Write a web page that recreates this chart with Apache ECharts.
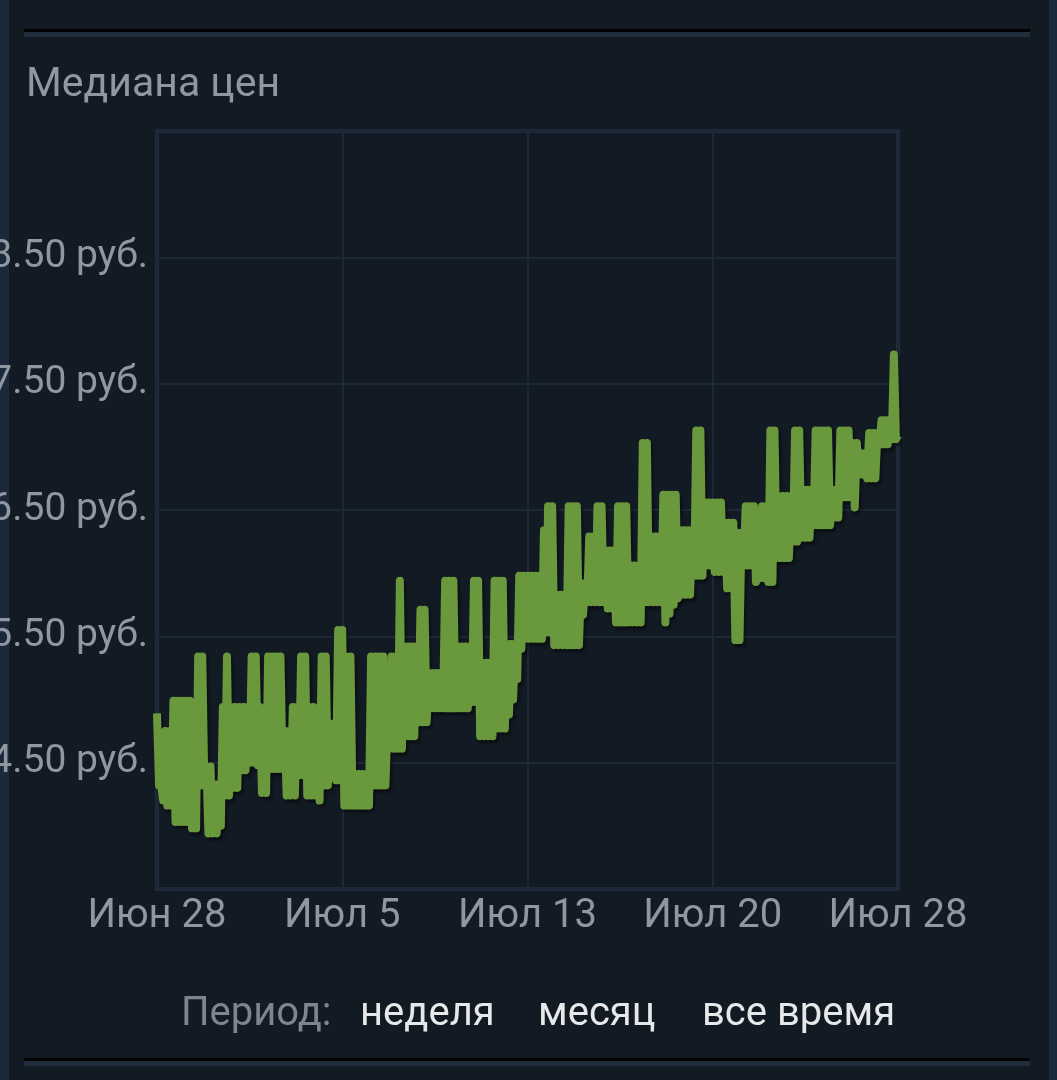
<!DOCTYPE html>
<html>
<head>
<meta charset="utf-8">
<script src="https://cdn.jsdelivr.net/npm/echarts@6/dist/echarts.min.js"></script>
<style>
html,body{margin:0;padding:0;background:#121a23;overflow:hidden;}
#stripL{position:absolute;left:0;top:0;width:9px;height:1080px;background:#1b2a3b;}
#stripR{position:absolute;left:1049px;top:0;width:8px;height:1080px;background:#1b2a3b;}
#chart{position:absolute;left:0;top:0;width:1057px;height:1080px;}
</style>
</head>
<body>
<div id="stripL"></div>
<div id="stripR"></div>
<div id="chart"></div>
<script>
// ---- data ----
const titleText = 'Медиана цен';
const xTickLabels = ['Июн 28', 'Июл 5', 'Июл 13', 'Июл 20', 'Июл 28'];
const yTickValues = [4.5, 5.5, 6.5, 7.5, 8.5];
const yTickLabels = ['4.50 руб.', '5.50 руб.', '6.50 руб.', '7.50 руб.', '8.50 руб.'];
const periodLabel = 'Период:';
const periodOptions = ['неделя', 'месяц', 'все время'];
// median price samples, one every 2 hours from Jun 28 00:00 (hour 0) to Jul 28 00:00 (hour 720)
const sampleStepHours = 2;
const prices = [
  4.89, 4.32, 4.33, 4.20, 4.75, 4.16, 4.75, 4.16, 4.99, 4.03,
  4.99, 4.03, 4.99, 4.03, 4.99, 4.03, 4.99, 3.98, 4.60, 3.98,
  5.34, 4.32, 5.34, 4.32, 4.47, 3.94, 4.47, 3.94, 4.33, 3.94,
  4.33, 4.00, 4.94, 4.24, 5.34, 4.24, 4.94, 4.30, 4.94, 4.30,
  4.94, 4.44, 4.94, 4.44, 4.94, 4.50, 5.34, 4.50, 5.34, 4.48,
  4.94, 4.26, 4.89, 4.26, 5.34, 4.45, 5.34, 4.45, 5.34, 4.45,
  5.34, 4.45, 4.75, 4.24, 4.75, 4.24, 4.94, 4.24, 4.94, 4.40,
  5.34, 4.40, 5.34, 4.24, 4.94, 4.24, 4.94, 4.24, 4.89, 4.20,
  5.34, 4.32, 5.34, 4.32, 4.81, 4.40, 4.81, 4.36, 5.55, 4.36,
  5.55, 4.16, 5.34, 4.16, 5.34, 4.16, 4.41, 4.16, 4.41, 4.16,
  4.41, 4.16, 4.41, 4.16, 5.34, 4.32, 5.34, 4.32, 5.34, 4.32,
  5.34, 4.32, 4.86, 4.61, 5.34, 4.61, 5.34, 4.61, 5.94, 4.61,
  5.42, 4.71, 5.42, 4.71, 5.42, 4.71, 5.42, 4.82, 5.71, 4.82,
  5.71, 4.82, 5.21, 4.93, 5.21, 4.93, 5.21, 4.93, 5.21, 4.93,
  5.94, 4.93, 5.94, 4.93, 5.94, 4.93, 5.42, 4.93, 5.42, 4.93,
  5.42, 4.93, 5.42, 4.98, 5.94, 4.98, 5.94, 4.71, 5.29, 4.71,
  5.29, 4.71, 5.29, 4.71, 5.94, 4.77, 5.94, 4.77, 5.94, 4.77,
  5.44, 4.88, 5.44, 5.00, 5.44, 5.16, 5.98, 5.40, 5.98, 5.48,
  5.98, 5.48, 5.98, 5.48, 5.98, 5.48, 5.98, 5.48, 6.34, 5.53,
  6.53, 5.53, 6.53, 5.43, 5.83, 5.43, 5.83, 5.43, 5.83, 5.43,
  6.53, 5.43, 6.53, 5.43, 6.53, 5.43, 5.92, 5.67, 5.92, 5.77,
  6.29, 5.77, 6.29, 5.77, 6.53, 5.77, 6.53, 5.77, 6.18, 5.72,
  6.18, 5.72, 6.18, 5.61, 6.53, 5.61, 6.53, 5.61, 6.53, 5.61,
  6.06, 5.61, 6.06, 5.61, 6.06, 5.61, 7.03, 5.77, 7.03, 5.77,
  6.29, 5.77, 6.29, 5.77, 6.29, 5.77, 6.62, 5.61, 6.62, 5.68,
  6.62, 5.75, 6.62, 5.80, 6.34, 5.83, 6.34, 5.83, 6.34, 5.83,
  6.34, 5.98, 7.13, 5.98, 7.13, 5.98, 6.56, 6.06, 6.56, 6.06,
  6.56, 6.01, 6.56, 6.01, 6.56, 6.01, 6.40, 5.88, 6.40, 5.88,
  6.40, 5.47, 6.32, 5.47, 6.32, 6.06, 6.53, 6.06, 6.53, 6.06,
  6.53, 5.93, 6.32, 5.96, 6.53, 5.96, 6.53, 5.93, 7.13, 5.93,
  7.13, 6.12, 6.61, 6.12, 6.61, 6.12, 6.61, 6.12, 6.61, 6.25,
  7.13, 6.25, 7.13, 6.28, 6.66, 6.28, 6.66, 6.28, 6.66, 6.38,
  7.13, 6.38, 7.13, 6.38, 7.13, 6.38, 7.13, 6.38, 6.66, 6.44,
  6.66, 6.44, 7.13, 6.60, 7.13, 6.60, 7.13, 6.60, 7.03, 6.52,
  7.03, 6.78, 6.95, 6.78, 6.95, 6.75, 7.11, 6.75, 7.11, 6.75,
  7.11, 7.02, 7.21, 7.02, 7.21, 7.02, 7.21, 7.06, 7.73, 7.06,
  7.09
];

// ---- chart ----
const seriesData = prices.map((p, i) => [i * sampleStepHours, p]);
const grey = '#8f98a0';
const chart = echarts.init(document.getElementById('chart'), null, {renderer: 'canvas'});
chart.setOption({
  backgroundColor: 'transparent',
  animation: false,
  grid: {
    left: 157, top: 131, width: 741, height: 758,
    containLabel: false, outerBoundsMode: 'none',
    show: true, borderColor: '#1d2b3b', borderWidth: 4, backgroundColor: 'transparent'
  },
  xAxis: {
    type: 'value', min: 0, max: 720, interval: 180,
    axisLine: {show: false}, axisTick: {show: false},
    splitLine: {show: true, lineStyle: {color: '#1c2837', width: 2}},
    axisLabel: {
      color: grey, fontFamily: 'Roboto', fontSize: 40, margin: 8,
      formatter: v => xTickLabels[Math.round(v / 180)] || ''
    }
  },
  yAxis: {
    type: 'value', min: 3.5, max: 9.5, interval: 1,
    axisLine: {show: false}, axisTick: {show: false},
    splitLine: {show: true, lineStyle: {color: '#1c2837', width: 2}},
    axisLabel: {
      color: grey, fontFamily: 'Roboto', fontSize: 39, margin: 9,
      formatter: v => {
        const k = yTickValues.findIndex(t => Math.abs(t - v) < 1e-6);
        return k >= 0 ? yTickLabels[k] : '';
      }
    }
  },
  graphic: [
    {type: 'rect', shape: {x: 24, y: 29, width: 1006, height: 3}, style: {fill: '#000000'}},
    {type: 'rect', shape: {x: 24, y: 32, width: 1006, height: 5}, style: {fill: '#1f2d3d'}},
    {type: 'rect', shape: {x: 24, y: 1058, width: 1006, height: 3}, style: {fill: '#000000'}},
    {type: 'rect', shape: {x: 24, y: 1061, width: 1006, height: 5}, style: {fill: '#1f2d3d'}},
    {type: 'text', left: 26, top: 65, style: {text: titleText, fill: grey, font: '41px Roboto'}},
    {type: 'text', left: 181, top: 995, style: {text: periodLabel, fill: '#7d858d', font: '40px Roboto'}},
    {type: 'text', left: 360, top: 995, style: {text: periodOptions[0], fill: '#e6e8ea', font: '40px Roboto'}},
    {type: 'text', left: 538, top: 995, style: {text: periodOptions[1], fill: '#e6e8ea', font: '40px Roboto'}},
    {type: 'text', left: 702, top: 995, style: {text: periodOptions[2], fill: '#e6e8ea', font: '40px Roboto'}}
  ],
  series: [{
    type: 'line',
    data: seriesData,
    showSymbol: false,
    symbol: 'none',
    lineStyle: {
      color: '#6a983c', width: 8, join: 'round', cap: 'butt',
      shadowColor: 'rgba(0,0,0,0.45)', shadowBlur: 3, shadowOffsetX: 2, shadowOffsetY: 3
    }
  }]
});
</script>
</body>
</html>
